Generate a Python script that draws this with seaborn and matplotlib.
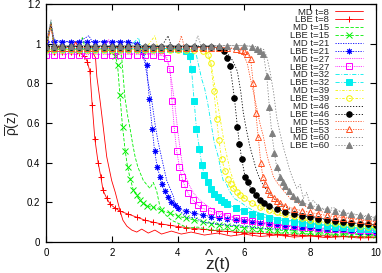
import matplotlib
matplotlib.use("Agg")
import matplotlib.pyplot as plt
import seaborn as sns

# ----------------------------
# Data: density profiles rho(z) at several times, MD vs LBE
# ----------------------------
times = [8, 15, 21, 27, 32, 39, 46, 53, 60]

# MD profiles (lines only)
md_z_08 = [0, 0.1, 0.15, 0.25, 0.5, 0.8, 0.9, 1.0, 1.2, 1.4, 1.5, 1.54, 1.64, 1.72, 1.84, 1.99, 2.1, 2.24, 2.33, 2.45,
           2.6, 2.75, 2.9, 3.1, 3.3, 3.5, 3.8, 4.1, 4.4, 4.8, 5.2, 5.6, 6.0, 6.5, 7.0, 7.5, 8.0, 8.5, 9.0, 9.5, 10.0]
md_rho_08 = [0.97, 1.05, 1.09, 0.99, 0.97, 0.97, 1.01, 0.97, 0.97, 0.96, 0.93, 0.835, 0.71, 0.6, 0.43, 0.31, 0.25, 0.16, 0.11, 0.08,
             0.06, 0.05, 0.065, 0.045, 0.06, 0.04, 0.055, 0.04, 0.05, 0.035, 0.045, 0.03, 0.04, 0.028, 0.035, 0.025, 0.03, 0.022, 0.027, 0.02, 0.022]

md_z_15 = [0, 0.1, 0.15, 0.25, 0.5, 0.75, 1.0, 1.1, 1.2, 1.5, 1.8, 2.0, 2.15, 2.29, 2.39, 2.47, 2.55, 2.62, 2.70, 2.78,
           2.85, 2.95, 3.05, 3.15, 3.25, 3.35, 3.45, 3.6, 3.8, 4.0, 4.3, 4.6, 5.0, 5.5, 6.0, 6.5, 7.0, 7.5, 8.0, 8.5, 9.0, 9.5, 10.0]
md_rho_15 = [0.97, 1.06, 1.1, 0.99, 0.97, 0.97, 0.97, 1.03, 0.97, 0.97, 0.97, 0.965, 0.95, 0.94, 0.73, 0.64, 0.57, 0.50, 0.43, 0.38,
             0.35, 0.31, 0.29, 0.27, 0.30, 0.26, 0.18, 0.14, 0.11, 0.095, 0.07, 0.075, 0.06, 0.062, 0.05, 0.052, 0.045, 0.046, 0.04, 0.041, 0.036, 0.037, 0.033]

md_z_21 = [0, 0.1, 0.15, 0.25, 0.5, 0.75, 1.0, 1.3, 1.4, 1.6, 2.0, 2.4, 2.7, 2.9, 3.0, 3.1, 3.2, 3.3, 3.38, 3.45,
           3.55, 3.66, 3.76, 3.86, 3.96, 4.1, 4.3, 4.5, 4.75, 5.0, 5.5, 6.0, 6.5, 7.0, 7.5, 8.0, 8.5, 9.0, 9.5, 10.0]
md_rho_21 = [1.01, 1.07, 1.1, 1.02, 1.01, 1.01, 1.01, 1.04, 1.01, 1.01, 1.01, 1.01, 1.0, 0.97, 0.9, 0.8, 0.72, 0.6, 0.52, 0.465,
             0.39, 0.31, 0.27, 0.23, 0.16, 0.15, 0.12, 0.125, 0.1, 0.095, 0.085, 0.08, 0.07, 0.065, 0.062, 0.058, 0.055, 0.05, 0.048, 0.045]

md_z_27 = [0, 0.1, 0.15, 0.25, 0.5, 1.0, 1.5, 1.9, 2.0, 2.5, 3.0, 3.3, 3.5, 3.6, 3.7, 3.8, 3.9, 4.0, 4.08, 4.16,
           4.26, 4.36, 4.46, 4.6, 4.75, 4.9, 5.1, 5.3, 5.6, 6.0, 6.5, 7.0, 7.5, 8.0, 8.5, 9.0, 9.5, 10.0]
md_rho_27 = [0.95, 1.06, 1.1, 0.97, 0.95, 0.95, 0.95, 1.02, 0.95, 0.95, 0.95, 0.95, 0.945, 0.94, 0.9, 0.82, 0.7, 0.55, 0.45, 0.36,
             0.32, 0.28, 0.25, 0.22, 0.2, 0.18, 0.16, 0.145, 0.13, 0.115, 0.1, 0.09, 0.082, 0.075, 0.069, 0.064, 0.06, 0.056]

md_z_32 = [0, 0.1, 0.15, 0.25, 0.5, 1.0, 1.5, 2.0, 2.5, 2.8, 2.9, 3.5, 4.0, 4.3, 4.45, 4.56, 4.64, 4.72, 4.8, 4.9,
           5.0, 5.1, 5.22, 5.3, 5.37, 5.45, 5.55, 5.7, 5.9, 6.1, 6.4, 6.7, 7.0, 7.5, 8.0, 8.5, 9.0, 9.5, 10.0]
md_rho_32 = [0.975, 1.07, 1.11, 0.99, 0.975, 0.975, 0.975, 0.975, 0.975, 1.03, 0.975, 0.975, 0.975, 0.97, 0.955, 0.94, 0.88, 0.82, 0.78, 0.7,
             0.6, 0.5, 0.43, 0.36, 0.31, 0.3, 0.26, 0.22, 0.2, 0.175, 0.15, 0.135, 0.12, 0.105, 0.095, 0.085, 0.078, 0.07, 0.066]

md_z_39 = [0, 0.1, 0.15, 0.25, 0.5, 1.0, 1.5, 2.0, 2.5, 3.0, 3.3, 3.4, 4.0, 4.5, 4.8, 4.9, 5.0, 5.1, 5.2, 5.27,
           5.35, 5.42, 5.5, 5.58, 5.7, 5.8, 5.95, 6.1, 6.3, 6.5, 6.8, 7.1, 7.5, 8.0, 8.5, 9.0, 9.5, 10.0]
md_rho_39 = [0.97, 1.06, 1.1, 0.98, 0.97, 0.97, 0.97, 0.97, 0.97, 0.97, 1.04, 0.97, 0.97, 0.97, 0.965, 0.955, 0.9, 0.8, 0.7, 0.63,
             0.55, 0.48, 0.42, 0.36, 0.3, 0.26, 0.23, 0.21, 0.19, 0.17, 0.15, 0.135, 0.12, 0.105, 0.095, 0.087, 0.08, 0.074]

md_z_46 = [0, 0.1, 0.15, 0.25, 0.5, 1.0, 1.5, 2.0, 2.5, 3.0, 3.5, 3.7, 3.8, 4.5, 5.0, 5.4, 5.6, 5.7, 5.8, 5.9,
           5.98, 6.08, 6.18, 6.28, 6.38, 6.5, 6.69, 6.9, 7.1, 7.4, 7.7, 8.0, 8.5, 9.0, 9.5, 10.0]
md_rho_46 = [0.985, 1.07, 1.1, 0.99, 0.985, 0.985, 0.985, 0.985, 0.985, 0.985, 0.985, 1.04, 0.985, 0.985, 0.985, 0.97, 0.93, 0.9, 0.86, 0.76,
             0.65, 0.56, 0.48, 0.42, 0.36, 0.31, 0.26, 0.22, 0.19, 0.165, 0.145, 0.13, 0.115, 0.102, 0.093, 0.085]

md_z_53 = [0, 0.1, 0.15, 0.25, 0.5, 1.0, 1.5, 2.0, 2.5, 3.0, 3.5, 4.0, 4.1, 4.2, 4.6, 5.0, 5.5, 5.8, 6.0, 6.1,
           6.18, 6.28, 6.38, 6.48, 6.59, 6.67, 6.74, 6.82, 6.89, 7.0, 7.19, 7.4, 7.7, 8.0, 8.4, 8.8, 9.2, 9.6, 10.0]
md_rho_53 = [0.98, 1.07, 1.11, 0.99, 0.98, 0.98, 0.98, 0.98, 0.98, 0.98, 0.98, 0.98, 1.04, 0.98, 0.98, 0.98, 0.98, 0.97, 0.94, 0.9,
             0.835, 0.76, 0.68, 0.6, 0.53, 0.46, 0.41, 0.37, 0.33, 0.3, 0.26, 0.22, 0.19, 0.17, 0.15, 0.135, 0.122, 0.112, 0.104]

md_z_60 = [0, 0.1, 0.15, 0.25, 0.5, 1.0, 1.5, 2.0, 2.5, 3.0, 3.5, 4.0, 4.5, 4.6, 4.7, 5.0, 5.5, 6.0, 6.4, 6.6,
           6.7, 6.8, 6.9, 6.99, 7.09, 7.19, 7.29, 7.39, 7.5, 7.6, 7.7, 7.8, 7.9, 8.0, 8.1, 8.3, 8.5, 8.7, 9.0, 9.3, 9.6, 10.0]
md_rho_60 = [0.99, 1.08, 1.12, 1.0, 0.99, 0.99, 0.99, 0.99, 0.99, 0.99, 0.99, 0.99, 0.99, 1.04, 0.99, 0.99, 0.99, 0.99, 0.985, 0.97,
             0.93, 0.85, 0.75, 0.63, 0.55, 0.48, 0.42, 0.36, 0.31, 0.27, 0.29, 0.22, 0.25, 0.19, 0.21, 0.17, 0.16, 0.175, 0.145, 0.14, 0.13, 0.12]

# LBE profiles (lines with points)
lbe_z_08 = [0, 0.25, 0.5, 0.75, 1.0, 1.15, 1.25, 1.33, 1.40, 1.48, 1.58, 1.66, 1.73, 1.84, 1.95, 2.1, 2.25,
            2.5, 2.75, 3.0, 3.25, 3.5, 3.75, 4.0, 4.25, 4.5, 4.75, 5.0, 5.25, 5.5, 5.75, 6.0, 6.25, 6.5, 6.75,
            7.0, 7.25, 7.5, 7.75, 8.0, 8.25, 8.5, 8.75, 9.0, 9.25, 9.5, 9.75, 10.0]
lbe_rho_08 = [0.96, 0.96, 0.96, 0.96, 0.955, 0.94, 0.91, 0.86, 0.69, 0.52, 0.40, 0.33, 0.26, 0.22, 0.19, 0.17, 0.155,
              0.14, 0.125, 0.11, 0.10, 0.091, 0.084, 0.078, 0.073, 0.068, 0.064, 0.06, 0.056, 0.053, 0.05, 0.047, 0.045, 0.043, 0.041,
              0.039, 0.037, 0.036, 0.034, 0.033, 0.032, 0.031, 0.03, 0.029, 0.028, 0.027, 0.026, 0.025]

lbe_z_15 = [0, 0.25, 0.5, 0.75, 1.0, 1.25, 1.5, 1.75, 2.0, 2.1, 2.17, 2.24, 2.32, 2.40, 2.47, 2.55, 2.65, 2.75, 2.85, 2.95, 3.05,
            3.25, 3.5, 3.75, 4.0, 4.25, 4.5, 4.75, 5.0, 5.25, 5.5, 5.75, 6.0, 6.25, 6.5, 6.75, 7.0, 7.25, 7.5, 7.75, 8.0,
            8.25, 8.5, 8.75, 9.0, 9.25, 9.5, 9.75, 10.0]
lbe_rho_15 = [0.97, 0.97, 0.97, 0.97, 0.97, 0.97, 0.97, 0.97, 0.965, 0.94, 0.89, 0.74, 0.58, 0.46, 0.38, 0.32, 0.26, 0.235, 0.21, 0.195, 0.18,
              0.175, 0.16, 0.145, 0.13, 0.12, 0.11, 0.10, 0.092, 0.086, 0.08, 0.076, 0.072, 0.069, 0.066, 0.063, 0.06, 0.058, 0.056, 0.054, 0.052,
              0.05, 0.048, 0.046, 0.044, 0.042, 0.04, 0.039, 0.037]

lbe_z_21 = [0, 0.25, 0.5, 0.75, 1.0, 1.25, 1.5, 1.75, 2.0, 2.25, 2.5, 2.75,
            2.95, 3.05, 3.13, 3.22, 3.29, 3.37, 3.45, 3.52, 3.6, 3.7, 3.8, 3.9, 4.0,
            4.25, 4.5, 4.75, 5.0, 5.25, 5.5, 5.75, 6.0, 6.25, 6.5, 6.75, 7.0, 7.25, 7.5, 7.75, 8.0,
            8.25, 8.5, 8.75, 9.0, 9.25, 9.5, 9.75, 10.0]
lbe_rho_21 = [1.01, 1.01, 1.01, 1.01, 1.01, 1.01, 1.01, 1.01, 1.01, 1.01, 1.01, 1.0,
              0.96, 0.89, 0.72, 0.57, 0.46, 0.38, 0.33, 0.29, 0.255, 0.225, 0.20, 0.185, 0.17,
              0.155, 0.145, 0.136, 0.128, 0.121, 0.115, 0.109, 0.104, 0.099, 0.094, 0.089, 0.085, 0.081, 0.077, 0.073, 0.07,
              0.067, 0.064, 0.061, 0.058, 0.055, 0.052, 0.05, 0.047]

lbe_z_27 = [0, 0.25, 0.5, 0.75, 1.0, 1.25, 1.5, 1.75, 2.0, 2.25, 2.5, 2.75, 3.0, 3.25, 3.5,
            3.66, 3.76, 3.82, 3.89, 3.96, 4.04, 4.11, 4.19, 4.31, 4.46, 4.6,
            4.75, 5.0, 5.25, 5.5, 5.75, 6.0, 6.25, 6.5, 6.75, 7.0, 7.25, 7.5, 7.75, 8.0,
            8.25, 8.5, 8.75, 9.0, 9.25, 9.5, 9.75, 10.0]
lbe_rho_27 = [0.945, 0.945, 0.945, 0.945, 0.945, 0.945, 0.945, 0.945, 0.945, 0.945, 0.945, 0.945, 0.945, 0.945, 0.94,
              0.93, 0.87, 0.71, 0.57, 0.46, 0.38, 0.33, 0.29, 0.245, 0.21, 0.185,
              0.17, 0.155, 0.14, 0.13, 0.12, 0.112, 0.105, 0.099, 0.094, 0.089, 0.085, 0.081, 0.077, 0.074,
              0.071, 0.068, 0.066, 0.064, 0.062, 0.06, 0.058, 0.057]

lbe_z_32 = [0, 0.25, 0.5, 0.75, 1.0, 1.25, 1.5, 1.75, 2.0, 2.25, 2.5, 2.75, 3.0, 3.25, 3.5, 3.75, 4.0, 4.25,
            4.35, 4.41, 4.49, 4.56, 4.65, 4.72, 4.80, 4.90, 5.0, 5.1, 5.2, 5.3, 5.4,
            5.5, 5.75, 6.0, 6.25, 6.5, 6.75, 7.0, 7.25, 7.5, 7.75, 8.0, 8.25, 8.5, 8.75, 9.0, 9.25, 9.5, 9.75, 10.0]
lbe_rho_32 = [0.975, 0.975, 0.975, 0.975, 0.975, 0.975, 0.975, 0.975, 0.975, 0.975, 0.975, 0.975, 0.975, 0.975, 0.975, 0.975, 0.975, 0.965,
              0.94, 0.87, 0.71, 0.57, 0.47, 0.39, 0.34, 0.30, 0.265, 0.24, 0.225, 0.21, 0.20,
              0.19, 0.172, 0.155, 0.142, 0.13, 0.12, 0.112, 0.105, 0.099, 0.094, 0.089, 0.085, 0.081, 0.077, 0.074, 0.071, 0.068, 0.066, 0.064]

lbe_z_39 = [0, 0.25, 0.5, 0.75, 1.0, 1.25, 1.5, 1.75, 2.0, 2.25, 2.5, 2.75, 3.0, 3.25, 3.5, 3.75, 4.0, 4.25, 4.5, 4.75,
            4.9, 4.99, 5.09, 5.17, 5.24, 5.32, 5.42, 5.52, 5.6, 5.68, 5.78, 5.88, 6.0,
            6.25, 6.5, 6.75, 7.0, 7.25, 7.5, 7.75, 8.0, 8.25, 8.5, 8.75, 9.0, 9.25, 9.5, 9.75, 10.0]
lbe_rho_39 = [0.97, 0.97, 0.97, 0.97, 0.97, 0.97, 0.97, 0.97, 0.97, 0.97, 0.97, 0.97, 0.97, 0.97, 0.97, 0.97, 0.97, 0.97, 0.97, 0.965,
              0.945, 0.90, 0.76, 0.62, 0.515, 0.42, 0.36, 0.32, 0.29, 0.27, 0.25, 0.235, 0.22,
              0.195, 0.178, 0.163, 0.15, 0.139, 0.129, 0.12, 0.112, 0.105, 0.099, 0.094, 0.089, 0.085, 0.081, 0.078, 0.075]

lbe_z_46 = [0, 0.25, 0.5, 0.75, 1.0, 1.25, 1.5, 1.75, 2.0, 2.25, 2.5, 2.75, 3.0, 3.25, 3.5, 3.75, 4.0, 4.25, 4.5, 4.75, 5.0, 5.25,
            5.4, 5.5, 5.58, 5.71, 5.80, 5.86, 5.93, 6.03, 6.13, 6.23, 6.35, 6.48, 6.6, 6.75,
            7.0, 7.25, 7.5, 7.75, 8.0, 8.25, 8.5, 8.75, 9.0, 9.25, 9.5, 9.75, 10.0]
lbe_rho_46 = [0.985, 0.985, 0.985, 0.985, 0.985, 0.985, 0.985, 0.985, 0.985, 0.985, 0.985, 0.985, 0.985, 0.985, 0.985, 0.985,
              0.985, 0.985, 0.985, 0.985, 0.985, 0.98,
              0.965, 0.93, 0.885, 0.725, 0.58, 0.495, 0.42, 0.33, 0.30, 0.26, 0.235, 0.21, 0.195, 0.18,
              0.165, 0.153, 0.142, 0.133, 0.125, 0.118, 0.112, 0.106, 0.101, 0.097, 0.093, 0.089, 0.086]

lbe_z_53 = [0, 0.25, 0.5, 0.75, 1.0, 1.25, 1.5, 1.75, 2.0, 2.25, 2.5, 2.75, 3.0, 3.25, 3.5, 3.75, 4.0, 4.25, 4.5, 4.75,
            5.0, 5.25, 5.5, 5.75,
            5.9, 6.0, 6.1, 6.2, 6.28, 6.36, 6.43, 6.51, 6.57, 6.64, 6.72, 6.79, 6.9, 7.0, 7.1, 7.25,
            7.5, 7.75, 8.0, 8.25, 8.5, 8.75, 9.0, 9.25, 9.5, 9.75, 10.0]
lbe_rho_53 = [0.98, 0.98, 0.98, 0.98, 0.98, 0.98, 0.98, 0.98, 0.98, 0.98, 0.98, 0.98, 0.98, 0.98, 0.98, 0.98, 0.98, 0.98, 0.98, 0.98,
              0.98, 0.98, 0.98, 0.975,
              0.97, 0.965, 0.95, 0.925, 0.80, 0.65, 0.53, 0.40, 0.33, 0.29, 0.26, 0.24, 0.22, 0.205, 0.195, 0.183,
              0.168, 0.158, 0.149, 0.141, 0.134, 0.128, 0.122, 0.117, 0.112, 0.107, 0.102]

lbe_z_60 = [0, 0.25, 0.5, 0.75, 1.0, 1.25, 1.5, 1.75, 2.0, 2.25, 2.5, 2.75, 3.0, 3.25, 3.5, 3.75, 4.0, 4.25, 4.5, 4.75,
            5.0, 5.25, 5.5, 5.75, 6.0, 6.25,
            6.4, 6.5, 6.59, 6.69, 6.77, 6.84, 6.92, 6.99, 7.09, 7.17, 7.24, 7.35, 7.49, 7.6, 7.75,
            8.0, 8.25, 8.5, 8.75, 9.0, 9.25, 9.5, 9.75, 10.0]
lbe_rho_60 = [0.99, 0.99, 0.99, 0.99, 0.99, 0.99, 0.99, 0.99, 0.99, 0.99, 0.99, 0.99, 0.99, 0.99, 0.99, 0.99, 0.99, 0.99, 0.99, 0.99,
              0.99, 0.99, 0.99, 0.99, 0.99, 0.985,
              0.975, 0.965, 0.95, 0.835, 0.68, 0.55, 0.45, 0.38, 0.33, 0.30, 0.28, 0.255, 0.23, 0.215, 0.2,
              0.185, 0.175, 0.165, 0.157, 0.15, 0.143, 0.137, 0.131, 0.125]

md_z = [md_z_08, md_z_15, md_z_21, md_z_27, md_z_32, md_z_39, md_z_46, md_z_53, md_z_60]
md_rho = [md_rho_08, md_rho_15, md_rho_21, md_rho_27, md_rho_32, md_rho_39, md_rho_46, md_rho_53, md_rho_60]
lbe_z = [lbe_z_08, lbe_z_15, lbe_z_21, lbe_z_27, lbe_z_32, lbe_z_39, lbe_z_46, lbe_z_53, lbe_z_60]
lbe_rho = [lbe_rho_08, lbe_rho_15, lbe_rho_21, lbe_rho_27, lbe_rho_32, lbe_rho_39, lbe_rho_46, lbe_rho_53, lbe_rho_60]

# gnuplot-like styles
colors = ['#ff0000', '#00f000', '#0000ff', '#ff00ff', '#00eeee', '#f4f400', '#000000', '#ff5020', '#808080']
linestyles = ['-', (0, (4, 2)), (0, (1.5, 1.5)), (0, (1, 1.2)), (0, (5, 2, 1, 2)),
              (0, (3, 2, 1, 2)), (0, (1.5, 2)), (0, (1.5, 1.5)), (0, (1.5, 2))]
markers = ['+', 'x', (8, 2, 0), 's', 's', 'o', 'o', '^', '^']
filled = [True, True, True, False, True, False, True, False, True]

# ----------------------------
# Plot
# ----------------------------
sns.set_style("ticks")
plt.rcParams['font.family'] = ['Liberation Sans', 'DejaVu Sans']
plt.rcParams['mathtext.fontset'] = 'dejavusans'
plt.rcParams['mathtext.default'] = 'regular'

fig = plt.figure(figsize=(3.82, 2.73), dpi=100)
ax = fig.add_axes([0.1204, 0.1136, 0.8639, 0.8718])

for i, t in enumerate(times):
    sns.lineplot(x=md_z[i], y=md_rho[i], ax=ax, color=colors[i], linestyle=linestyles[i],
                 linewidth=0.6, label=f"MD t={t}", estimator=None, sort=False, errorbar=None)
    sns.lineplot(x=lbe_z[i], y=lbe_rho[i], ax=ax, color=colors[i], linestyle=linestyles[i],
                 linewidth=0.6, marker=markers[i], markersize=4, markeredgewidth=0.7,
                 markerfacecolor=colors[i] if filled[i] else 'none', markeredgecolor=colors[i],
                 label=f"LBE t={t}", estimator=None, sort=False, errorbar=None)

ax.set_xlim(0, 10)
ax.set_ylim(0, 1.2)
ax.set_xticks([0, 2, 4, 6, 8, 10])
ax.set_yticks([0, 0.2, 0.4, 0.6, 0.8, 1.0, 1.2])
ax.set_yticklabels(["0", "0.2", "0.4", "0.6", "0.8", "1", "1.2"])
ax.tick_params(direction='in', top=True, right=True, length=4, width=0.8, labelsize=7, pad=4, colors='black')
for sp in ax.spines.values():
    sp.set_linewidth(0.9)
    sp.set_color('black')

# axis labels (gnuplot-style hat stacked over z, one text)
fig.text(0.537, 0.004, "^\nz(t)", fontsize=12.5, ha='left', va='bottom',
         multialignment='left', linespacing=0.45)
ax.set_ylabel(r"$\overline{\rho}$(z)", fontsize=10, labelpad=3)

# legend: labels on the left, samples on the right (right-aligned rows)
leg = ax.legend(loc='upper right', bbox_to_anchor=(0.962, 0.985), frameon=False, fontsize=6.8,
                markerfirst=False, handlelength=2.97, handletextpad=0.64, labelspacing=-0.12,
                borderaxespad=0.0, borderpad=0.0)

fig.savefig("out.png", dpi=100)
